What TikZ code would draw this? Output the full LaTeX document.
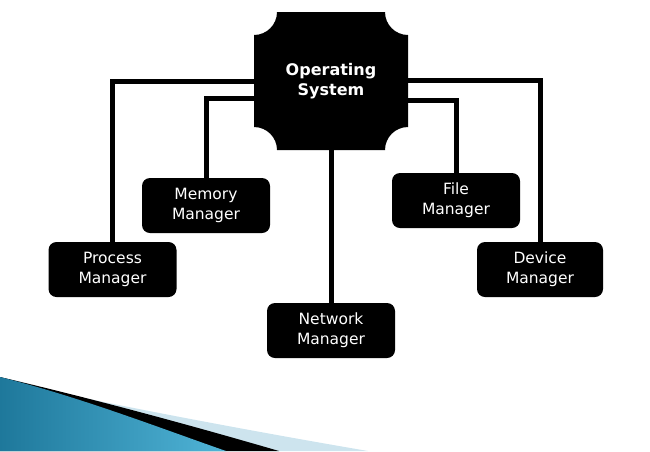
\documentclass[tikz,border=0pt]{standalone}
\usepackage{fontspec}
\setmainfont{DejaVu Sans}
\definecolor{swlight}{RGB}{205,228,238}
\definecolor{swdark}{RGB}{30,120,155}
\definecolor{swbright}{RGB}{80,180,215}
\begin{document}
\begin{tikzpicture}[x=1pt,y=-1pt,
  mgr/.style={fill=black, rounded corners=8pt, text=white, align=center,
    minimum width=128pt, minimum height=55pt, inner sep=0pt,
    font=\fontsize{15.5}{20}\selectfont},
  conn/.style={line width=5pt},
]
\useasboundingbox (0,0) rectangle (650,451);
% swoosh
\fill[swlight]
  (60,393) .. controls (160,414) and (280,436) .. (368,451) -- (0,451) -- (0,377) -- cycle;
\fill[black] (0,377) .. controls (90,398) and (190,425) .. (279,451) -- (0,451) -- cycle;
\shade[left color=swdark, right color=swbright]
  (0,377) .. controls (80,397) and (160,428) .. (226,451) -- (0,451) -- cycle;
% OS shape
\fill[black] (277,12) -- (385,12) arc[start angle=180,end angle=90,radius=23]
  -- (408,127) arc[start angle=270,end angle=180,radius=23]
  -- (277,150) arc[start angle=360,end angle=270,radius=23]
  -- (254,35) arc[start angle=90,end angle=0,radius=23] -- cycle;
\node[minimum width=154pt, minimum height=138pt, inner sep=0pt, text=white, align=center,
  font=\fontsize{16}{20}\selectfont\bfseries] (os) at (331,81) {Operating\\System};
% managers
\node[mgr] (mem) at (206,205.5) {Memory\\Manager};
\node[mgr] (proc) at (112.5,269.5) {Process\\Manager};
\node[mgr] (file) at (456,200.5) {File\\Manager};
\node[mgr, minimum width=126pt] (dev) at (540,269.5) {Device\\Manager};
\node[mgr] (net) at (331,330.5) {Network\\Manager};
% connectors
\draw[conn] (os.west) -| (proc.north);
\draw[conn] ([yshift=-17.5pt]os.west) -| (mem.north);
\draw[conn] ([yshift=-19pt]os.east) -| (file.north);
\draw[conn] ([yshift=1pt]os.east) -| (dev.north);
\draw[conn] (os.south) -- (net.north);
\end{tikzpicture}
\end{document}
